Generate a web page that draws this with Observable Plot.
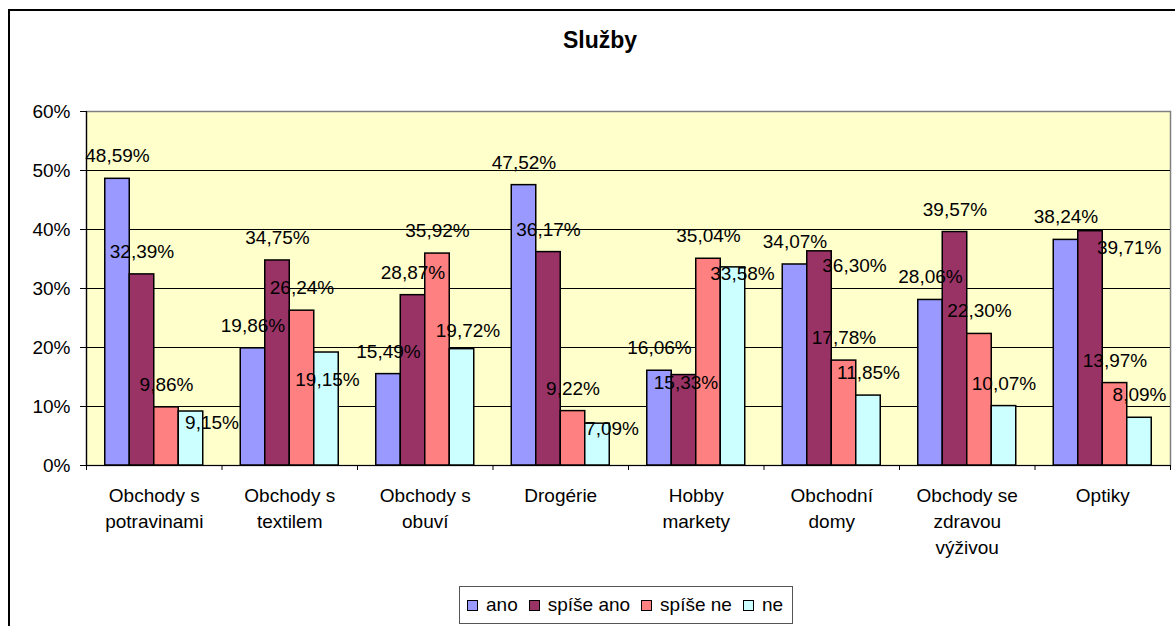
<!DOCTYPE html>
<html>
<head>
<meta charset="utf-8">
<script src="https://cdn.jsdelivr.net/npm/d3@7"></script>
<script src="https://cdn.jsdelivr.net/npm/@observablehq/plot@0.6"></script>
<style>
  html, body { margin: 0; padding: 0; background: #fff; overflow: hidden; }
  body { width: 1175px; height: 626px; position: relative; font-family: "Liberation Sans", Arial, sans-serif; color: #000; }
  #outer { position: absolute; left: 8px; top: 9px; width: 3000px; height: 3000px; border-left: 2px solid #000; border-top: 2px solid #000; pointer-events: none; }
  #title { box-sizing: border-box; width: 1175px; height: 72px; padding-top: 29px; padding-left: 25px; text-align: center; font-weight: bold; font-size: 23px; line-height: 23px; }
  #chart svg { display: block; }
  #legend { box-sizing: border-box; margin-left: 459px; width: 334px; height: 38px; border: 1px solid #555; display: flex; align-items: center; padding-left: 7px; font-size: 19px; white-space: nowrap; }
  #legend .item { display: flex; align-items: center; margin-right: 11px; }
  #legend .sw { box-sizing: border-box; width: 11px; height: 11px; border: 1px solid #000; margin-right: 8px; }
</style>
</head>
<body>
<div id="title"></div>
<div id="chart"></div>
<div id="legend"></div>
<div id="outer"></div>
<script>
// ---- data ----
const title = "Služby";
const categories = [
  "Obchody s\npotravinami",
  "Obchody s\ntextilem",
  "Obchody s\nobuví",
  "Drogérie",
  "Hobby\nmarkety",
  "Obchodní\ndomy",
  "Obchody se\nzdravou\nvýživou",
  "Optiky"
];
const seriesNames = ["ano", "spíše ano", "spíše ne", "ne"];
const ano      = [48.59, 19.86, 15.49, 47.52, 16.06, 34.07, 28.06, 38.24];
const spiseAno = [32.39, 34.75, 28.87, 36.17, 15.33, 36.30, 39.57, 39.71];
const spiseNe  = [9.86, 26.24, 35.92, 9.22, 35.04, 17.78, 22.30, 13.97];
const ne       = [9.15, 19.15, 19.72, 7.09, 33.58, 11.85, 10.07, 8.09];
const yTicks = [0, 10, 20, 30, 40, 50, 60];
const seriesColors = ["#9999FF", "#993366", "#FF8080", "#CCFFFF"];

// label nudges (pixel offsets from default "outside end" placement), keyed "category-series"
const labelNudges = {
  "0-3": [21, 33.5],
  "1-3": [1, 49.5],
  "2-3": [6, 4.5],
  "3-3": [14.5, 28.3],
  "4-1": [2, 30],
  "4-3": [9.5, 29.6],
  "5-1": [35, 37.4],
  "7-1": [38.7, 38.8]
};

// ---- build table ----
const seriesValues = [ano, spiseAno, spiseNe, ne];
const rows = categories.flatMap((c, ci) =>
  seriesNames.map((s, si) => ({ci, si, cat: c, series: s, value: seriesValues[si][ci]}))
);
const fmt = v => d3.format(".2f")(v).replace(".", ",") + "%";

// geometry within a category (in category units)
const padL = 0.1384, w = 0.1808;
const bx1 = d => d.ci + padL + d.si * w;
const bx2 = d => d.ci + padL + (d.si + 1) * w;
const bxc = d => d.ci + padL + (d.si + 0.5) * w;

const baseDy = -22.6;
const defaultRows = rows.filter(d => !labelNudges[`${d.ci}-${d.si}`]);
const nudgedMarks = rows.filter(d => labelNudges[`${d.ci}-${d.si}`]).map(d => {
  const [ndx, ndy] = labelNudges[`${d.ci}-${d.si}`];
  return Plot.text([d], {x: bxc, y: "value", text: d => fmt(d.value), dx: ndx, dy: baseDy + ndy, fontSize: 19, fill: "black"});
});

document.getElementById("title").textContent = title;

const chart = Plot.plot({
  width: 1175,
  height: 514,
  marginTop: 39,
  marginBottom: 121,
  marginLeft: 86,
  marginRight: 5,
  style: {fontFamily: "'Liberation Sans', Arial, sans-serif", fontSize: "19px", background: "transparent", color: "black", overflow: "visible"},
  x: {type: "linear", domain: [0, categories.length], axis: null, label: null},
  y: {domain: [0, 60], axis: null, label: null},
  color: {domain: seriesNames, range: seriesColors},
  marks: [
    Plot.frame({fill: "#FFFFCC", stroke: "#808080", strokeWidth: 1.5}),
    Plot.gridY({ticks: yTicks.filter(t => t > 0 && t < 60), stroke: "black", strokeOpacity: 1}),
    Plot.axisY({ticks: yTicks, tickSize: 6, tickPadding: 10, tickFormat: d => d + "%", fontSize: 19, stroke: "black", label: null}),
    Plot.axisX({ticks: d3.range(0, categories.length + 1), tickSize: 5, tickFormat: () => "", stroke: "black", label: null}),
    Plot.ruleX([0], {stroke: "black", strokeWidth: 1.2}),
    Plot.ruleY([0], {stroke: "black", strokeWidth: 1.2}),
    Plot.rectY(rows, {x1: bx1, x2: bx2, y1: 0, y2: "value", fill: "series", stroke: "black", strokeWidth: 1.5}),
    Plot.text(defaultRows, {x: bxc, y: "value", text: d => fmt(d.value), dy: baseDy, fontSize: 19, fill: "black"}),
    ...nudgedMarks,
    Plot.text(categories, {x: (d, i) => i + 0.5, text: d => d, frameAnchor: "bottom", lineAnchor: "top", dy: 18, lineHeight: 26 / 19, fontSize: 19, fill: "black"})
  ]
});
document.getElementById("chart").appendChild(chart);

// legend
const legend = document.getElementById("legend");
seriesNames.forEach((s, i) => {
  const item = document.createElement("span");
  item.className = "item";
  const sw = document.createElement("span");
  sw.className = "sw";
  sw.style.background = seriesColors[i];
  const t = document.createElement("span");
  t.textContent = s;
  item.appendChild(sw);
  item.appendChild(t);
  legend.appendChild(item);
});
</script>
</body>
</html>
